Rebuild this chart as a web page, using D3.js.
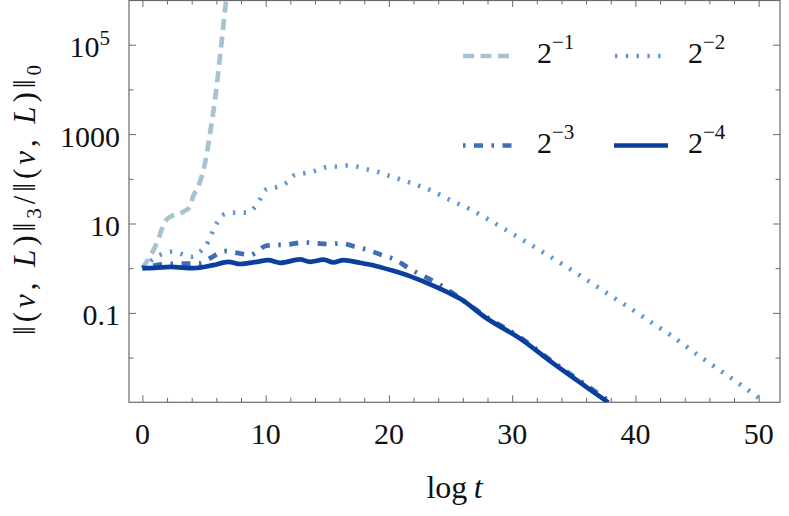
<!DOCTYPE html>
<html>
<head>
<meta charset="utf-8">
<script src="https://cdn.jsdelivr.net/npm/d3@7"></script>
<style>
  html, body { margin: 0; padding: 0; background: #fff; }
  svg { display: block; }
</style>
</head>
<body>
<svg id="chart" width="789" height="516" font-family="'Liberation Serif', 'DejaVu Serif', serif"></svg>
<script>
// ---------- data ----------
const seriesNames = ["−1", "−2", "−3", "−4"]; // exponents of 2

const tHalf = [0, 1.16, 1.83, 2.38, 3.32, 3.86, 4.13, 4.53, 5.08, 5.49, 5.89, 6.3, 6.62, 6.95];
const vHalf = [1, 3.6, 11, 14.7, 18.4, 23.8, 41.4, 66.8, 224, 1052, 5875, 55000, 365600, 2.5e6];

const tQuarter = [0, 1.43, 2.38, 3.19, 4.0, 4.8, 5.34, 5.75, 6.03, 6.7, 7.51, 8.46, 9.27, 10.08, 11.02, 11.7,
  12.38, 13.19, 14.14, 14.95, 15.76, 16.57, 17.38, 18.19, 19.0, 19.81, 20.89, 21.7, 23.32, 24.95, 26.5,
  28.05, 29.6, 31.11, 32.6, 34.09, 35.6, 37.1, 38.6, 40.03, 41.5, 42.98, 44.4, 45.82, 47.25, 48.69, 50.1, 50.5];
const vQuarter = [1, 1.97, 2.33, 2.07, 1.8, 2.5, 3.9, 7.1, 10.1, 16.3, 17.5, 17.5, 26, 58.5, 66.8, 82.2,
  122, 134, 153, 182, 188, 198, 188, 164, 145, 122, 97.7, 82.2, 56.4, 33.7, 21.4,
  12.4, 6.92, 3.91, 2.19, 1.22, 0.66, 0.352, 0.19, 0.105, 0.0562, 0.0301, 0.0155, 0.00813, 0.00437, 0.00231, 0.0012, 0.001];

const tEighth = [0, 1.97, 4.67, 5.48, 6.7, 7.65, 8.73, 10.08, 11.97, 13.05, 14.14, 15.08, 16.16, 17.24,
  18.32, 19.41, 20.49, 21.44, 22.38, 23.46, 24.4, 25.22, 27.92, 30.62, 33.33, 36.03, 37.9, 38.1];
const vEighth = [1, 1.24, 1.28, 1.66, 2.42, 2.21, 1.97, 3.21, 3.42, 3.78, 3.6, 3.47, 3.6, 3.02,
  2.55, 1.97, 1.57, 1.07, 0.764, 0.541, 0.383, 0.272, 0.0813, 0.0288, 0.00794, 0.0024, 0.00107, 0.001];

const tSixteenth = [0, 1.0, 2.3, 4.1, 5.75, 6.99, 7.95, 9.3, 10.2, 11.2, 12.78, 13.6, 14.7, 15.5, 16.3,
  17.65, 19.0, 20.35, 21.7, 23.06, 24.4, 25.76, 27.92, 30.62, 33.33, 36.03, 37.79];
const vSixteenth = [1, 1.02, 1.07, 1.0, 1.17, 1.39, 1.24, 1.39, 1.51, 1.32, 1.57, 1.39, 1.55, 1.35, 1.51,
  1.32, 1.11, 0.875, 0.665, 0.471, 0.324, 0.209, 0.0759, 0.0269, 0.00741, 0.00219, 0.001];

const xMajorTicks = [0, 10, 20, 30, 40, 50];
const xMinorTicks = [2, 4, 6, 8, 12, 14, 16, 18, 22, 24, 26, 28, 32, 34, 36, 38, 42, 44, 46, 48];
const yMajorTicks = [0.1, 10, 1000, 1e5];
const yMajorBase = ["0.1", "10", "1000", "10"];
const yMajorSup = ["", "", "", "5"];
const yMinorTicks = [0.01, 1, 100, 1e4];

// ---------- layout ----------
const L = 129, R = 780, T = 0, B = 402.3;
const FONT = "'Liberation Serif', 'DejaVu Serif', serif";
const colors = ["#a6c3d1", "#5f97d0", "#3e6eb7", "#0a3f9e"];
const dashes = ["11,6.5", "2.4,8.4", "2.5,8.5,9,8.5", null];
const widths = [4.7, 4.6, 4.7, 4.7];

const svg = d3.select("#chart");
const x = d3.scaleLinear().domain([-1.087, 51.73]).range([L, R]);
const y = d3.scaleLog().domain([1e-3, 1e6]).range([B, T]);

svg.append("defs").append("clipPath").attr("id", "clip")
  .append("rect").attr("x", L).attr("y", T).attr("width", R - L).attr("height", B - T);

const tickColor = "#6a6a6a";
function styleAxis(g) {
  g.select(".domain").remove();
  g.selectAll("line").attr("stroke", tickColor).attr("stroke-width", 1);
}
svg.append("g").attr("transform", `translate(0,${B})`)
  .call(d3.axisBottom(x).tickValues(xMajorTicks).tickSize(-7).tickFormat("")).call(styleAxis);
svg.append("g").attr("transform", `translate(0,${B})`)
  .call(d3.axisBottom(x).tickValues(xMinorTicks).tickSize(-4.5).tickFormat("")).call(styleAxis);
svg.append("g").attr("transform", `translate(0,${T})`)
  .call(d3.axisTop(x).tickValues(xMajorTicks).tickSize(-7).tickFormat("")).call(styleAxis);
svg.append("g").attr("transform", `translate(0,${T})`)
  .call(d3.axisTop(x).tickValues(xMinorTicks).tickSize(-4.5).tickFormat("")).call(styleAxis);
svg.append("g").attr("transform", `translate(${L},0)`)
  .call(d3.axisLeft(y).tickValues(yMajorTicks).tickSize(-7).tickFormat("")).call(styleAxis);
svg.append("g").attr("transform", `translate(${L},0)`)
  .call(d3.axisLeft(y).tickValues(yMinorTicks).tickSize(-4.5).tickFormat("")).call(styleAxis);
svg.append("g").attr("transform", `translate(${R},0)`)
  .call(d3.axisRight(y).tickValues(yMajorTicks).tickSize(-7).tickFormat("")).call(styleAxis);
svg.append("g").attr("transform", `translate(${R},0)`)
  .call(d3.axisRight(y).tickValues(yMinorTicks).tickSize(-4.5).tickFormat("")).call(styleAxis);

svg.append("rect").attr("x", L).attr("y", T + 0.5).attr("width", R - L).attr("height", B - T - 0.5)
  .attr("fill", "none").attr("stroke", tickColor).attr("stroke-width", 1.2);

// tick labels
svg.append("g").selectAll("text").data(xMajorTicks).join("text")
  .attr("font-family", FONT).attr("fill", "#111")
  .attr("x", d => x(d)).attr("y", 443.5).attr("text-anchor", "middle")
  .attr("font-size", 30).text(d => d);

const yl = svg.append("g").selectAll("text").data(yMajorTicks).join("text")
  .attr("font-family", FONT).attr("fill", "#111")
  .attr("x", (d, i) => yMajorSup[i] ? 110 : 120)
  .attr("y", d => y(d) + 12.5)
  .attr("text-anchor", "end").attr("font-size", 30);
yl.append("tspan").text((d, i) => yMajorBase[i]);
yl.filter((d, i) => yMajorSup[i]).append("tspan")
  .attr("font-size", 21).attr("dy", -12).text(d => yMajorSup[yMajorTicks.indexOf(d)]);

// axis titles
const xt = svg.append("text").attr("font-family", FONT).attr("fill", "#111")
  .attr("x", (L + R) / 2).attr("y", 498).attr("text-anchor", "middle").attr("font-size", 32);
xt.append("tspan").text("log\u2009");
xt.append("tspan").attr("font-style", "italic").text("t");

const yt = svg.append("text").attr("font-family", FONT).attr("fill", "#111")
  .attr("transform", "translate(35,200) rotate(-90)")
  .attr("text-anchor", "middle").attr("font-size", 31)
  .attr("textLength", 270).attr("lengthAdjust", "spacing");
const parts = [
  ["‖(", ""], ["v", "i"], [", ", ""], ["L", "i"], [")‖", ""], ["3", "sub"], ["/‖(", "up"],
  ["v", "i"], [", ", ""], ["L", "i"], [")‖", ""], ["0", "sub"]
];
parts.forEach(([s, k]) => {
  const ts = yt.append("tspan").text(s);
  if (k === "i") ts.attr("font-style", "italic");
  if (k === "sub") ts.attr("font-size", 21).attr("dy", 6);
  if (k === "up") ts.attr("dy", -6);
});

// series lines
const series = [
  { t: tHalf, v: vHalf },
  { t: tQuarter, v: vQuarter },
  { t: tEighth, v: vEighth },
  { t: tSixteenth, v: vSixteenth }
];
const line = d3.line().x(d => x(d[0])).y(d => y(d[1])).curve(d3.curveMonotoneX);
const plot = svg.append("g").attr("clip-path", "url(#clip)");
series.forEach((s, i) => {
  const pts = s.t.map((t, j) => [t, s.v[j]]);
  plot.append("path").attr("d", line(pts)).attr("fill", "none")
    .attr("stroke", colors[i]).attr("stroke-width", widths[i])
    .attr("stroke-dasharray", dashes[i]).attr("stroke-linecap", "butt")
    .attr("stroke-linejoin", "round");
});

// legend
const legPos = [
  { x1: 463, x2: 510, y: 56, tx: 537, ty: 62.7 },
  { x1: 615, x2: 664, y: 56, tx: 688, ty: 62.7 },
  { x1: 463, x2: 512, y: 145.5, tx: 537, ty: 152.7 },
  { x1: 614, x2: 668, y: 145.5, tx: 688, ty: 152.7 }
];
seriesNames.forEach((n, i) => {
  const p = legPos[i];
  svg.append("line").attr("x1", p.x1).attr("x2", p.x2).attr("y1", p.y).attr("y2", p.y)
    .attr("stroke", colors[i]).attr("stroke-width", widths[i])
    .attr("stroke-dasharray", dashes[i]);
  const t = svg.append("text").attr("font-family", FONT).attr("fill", "#111")
    .attr("x", p.tx).attr("y", p.ty).attr("font-size", 30);
  t.append("tspan").text("2");
  t.append("tspan").attr("font-size", 21).attr("dy", -14).text(n);
});
</script>
</body>
</html>
